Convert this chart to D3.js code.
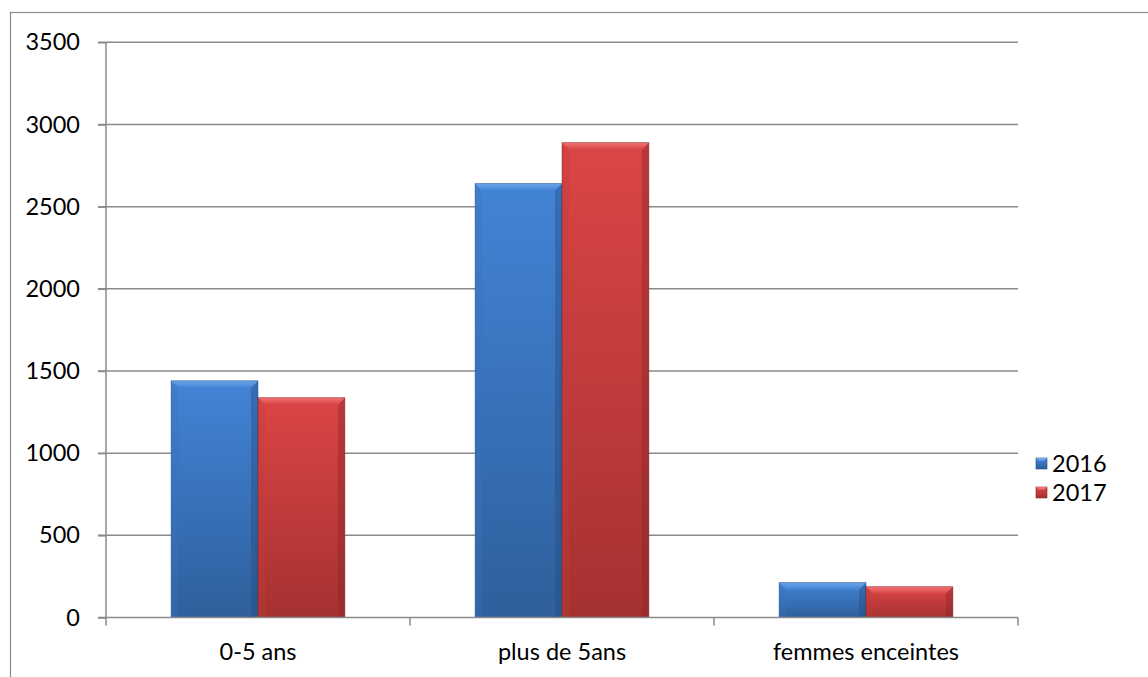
<!DOCTYPE html>
<html><head><meta charset="utf-8">
<script src="https://cdn.jsdelivr.net/npm/d3@7"></script>
<style>body{margin:0;background:#fff;}svg{display:block;font-family:Lato,"Open Sans",sans-serif;}</style>
</head><body><svg id="c" width="1148" height="677"></svg>
<script>
const categories = ["0-5 ans", "plus de 5ans", "femmes enceintes"];
const seriesNames = ["2016", "2017"];
const values2016 = [1440, 2640, 212];
const values2017 = [1337, 2889, 187];
const yTicks = [0, 500, 1000, 1500, 2000, 2500, 3000, 3500];

const svg = d3.select("#c");
const W = 1148, H = 677;
const pLeft = 106, pRight = 1018, pTop = 42.3, pBottom = 617.5;
const fs = 23.5;

// frame
svg.append("rect").attr("x", 10.5).attr("y", 12.5).attr("width", W + 10).attr("height", H + 10)
  .attr("fill", "none").attr("stroke", "#8c8c8c").attr("stroke-width", 1.2);

const x = d3.scaleBand().domain(categories).range([pLeft, pRight]).paddingInner(0).paddingOuter(0);
const inner = d3.scaleBand().domain(seriesNames).range([0, x.bandwidth()]).paddingOuter(0.75).paddingInner(0);
const y = d3.scaleLinear().domain([0, 3500]).range([pBottom, pTop]);

// gridlines
svg.append("g").selectAll("line").data(yTicks.filter(d => d > 0)).join("line")
  .attr("x1", pLeft - 8).attr("x2", pRight).attr("y1", d => y(d)).attr("y2", d => y(d))
  .attr("stroke", "#8a8a8a").attr("stroke-width", 1.5);

// y axis
const yAxis = d3.axisLeft(y).tickValues(yTicks).tickSize(8).tickPadding(18).tickFormat(d3.format("d"));
const gy = svg.append("g").attr("transform", `translate(${pLeft},0)`).call(yAxis);
gy.select(".domain").attr("stroke", "#8a8a8a").attr("stroke-width", 1.5).attr("d", `M0,${pTop}V${pBottom}`);
gy.selectAll(".tick line").attr("stroke", "#8a8a8a").attr("stroke-width", 1.5);
gy.selectAll("text").attr("font-size", fs).attr("fill", "#000").attr("font-family", "Lato");

// defs gradients
const defs = svg.append("defs");
const palette = {
  "2016": {top: "#4284d6", bot: "#2f5f9c", bevel: "#6ba5ec", bevelBot: "#4283d3", sideL: "#3a74bf", sideR: "#244c80"},
  "2017": {top: "#dc4545", bot: "#a53131", bevel: "#f27373", bevelBot: "#d84444", sideL: "#c33c3c", sideR: "#862525"}
};
seriesNames.forEach(s => {
  const p = palette[s];
  const g = defs.append("linearGradient").attr("id", "g" + s).attr("x1", 0).attr("y1", 0).attr("x2", 0).attr("y2", 1);
  g.append("stop").attr("offset", "0%").attr("stop-color", p.top);
  g.append("stop").attr("offset", "100%").attr("stop-color", p.bot);
  const b = defs.append("linearGradient").attr("id", "b" + s).attr("x1", 0).attr("y1", 0).attr("x2", 0).attr("y2", 1);
  b.append("stop").attr("offset", "0%").attr("stop-color", p.bevel);
  b.append("stop").attr("offset", "100%").attr("stop-color", p.bevelBot);
});

const data = [];
categories.forEach((c, i) => {
  data.push({cat: c, s: "2016", v: values2016[i]});
  data.push({cat: c, s: "2017", v: values2017[i]});
});

const bars = svg.append("g").selectAll("g").data(data).join("g");
bars.each(function(d) {
  const g = d3.select(this);
  const x0 = x(d.cat) + inner(d.s), w = inner.bandwidth();
  const y0 = y(d.v), y1 = y(0), h = y1 - y0;
  const b = Math.min(7, h / 2.5);
  const p = palette[d.s];
  g.append("rect").attr("x", x0).attr("y", y0).attr("width", w).attr("height", h).attr("fill", `url(#g${d.s})`);
  g.append("path").attr("d", `M${x0},${y0}L${x0 + b},${y0 + b}L${x0 + b},${y1}L${x0},${y1}Z`).attr("fill", p.sideL).attr("opacity", 0.35);
  g.append("path").attr("d", `M${x0 + w},${y0}L${x0 + w - b},${y0 + b}L${x0 + w - b},${y1}L${x0 + w},${y1}Z`).attr("fill", p.sideR).attr("opacity", 0.4);
  g.append("path").attr("d", `M${x0},${y0}L${x0 + w},${y0}L${x0 + w - b},${y0 + b}L${x0 + b},${y0 + b}Z`).attr("fill", `url(#b${d.s})`);
  g.append("rect").attr("x", x0).attr("y", y0).attr("width", w).attr("height", h)
    .attr("fill", "none").attr("stroke", p.sideR).attr("stroke-opacity", 0.6).attr("stroke-width", 0.8);
});

// x axis
const xAxis = d3.axisBottom(x).tickSize(0).tickPadding(26);
const gx = svg.append("g").attr("transform", `translate(0,${pBottom})`).call(xAxis);
gx.select(".domain").attr("stroke", "#8a8a8a").attr("stroke-width", 1.5).attr("d", `M${pLeft - 8},0H${pRight}`);
gx.selectAll("text").attr("font-size", fs).attr("fill", "#000").attr("font-family", "Lato");
const bounds = [pLeft].concat(categories.map(c => x(c) + x.bandwidth()));
gx.append("g").selectAll("line").data(bounds).join("line")
  .attr("x1", d => d).attr("x2", d => d).attr("y1", 0).attr("y2", 8)
  .attr("stroke", "#8a8a8a").attr("stroke-width", 1.5);

// legend
const leg = svg.append("g").attr("transform", "translate(1036,458)");
seriesNames.forEach((s, i) => {
  const p = palette[s];
  const g = leg.append("g").attr("transform", `translate(0,${i * 29})`);
  g.append("rect").attr("width", 11).attr("height", 11).attr("fill", `url(#g${s})`).attr("stroke", p.sideR).attr("stroke-width", 0.6);
  g.append("path").attr("d", "M0,0L11,0L8.5,2.5L2.5,2.5Z").attr("fill", p.bevel);
  g.append("text").attr("x", 16).attr("y", 5.5).attr("dy", "0.35em").attr("font-size", fs).attr("font-family", "Lato").text(s);
});
</script></body></html>
